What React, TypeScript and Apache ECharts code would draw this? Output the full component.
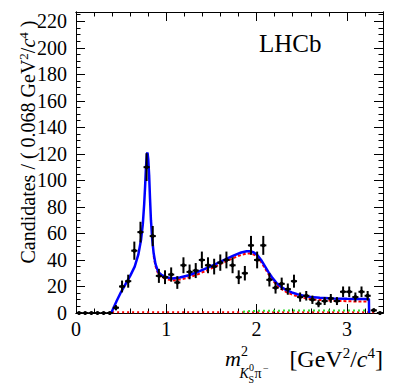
import React, { useEffect, useRef } from "react";
import * as echarts from "echarts";

const BIN_WIDTH = 0.068;
const counts = [
  0, 0, 0, 0, 0, 0, 4, 20, 24, 47,
  61, 110, 58, 28, 27, 29, 23, 36, 31, 32,
  40, 36, 35, 38, 40, 36, 27, 30, 51, 40,
  51, 25, 19, 22, 18, 24, 12, 13, 10, 7,
  9, 11, 9, 16, 16, 12, 16, 13, 2, 0,
];
const binCenters = counts.map((_, i) => BIN_WIDTH * (i + 0.5));

const totalFitX = [0.39, 0.45, 0.5, 0.55, 0.6, 0.65, 0.69, 0.72, 0.74, 0.755, 0.765, 0.775, 0.785, 0.792, 0.8, 0.81, 0.82, 0.83, 0.845, 0.86, 0.88, 0.91, 0.95, 1.0, 1.07, 1.15, 1.25, 1.35, 1.48, 1.58, 1.665, 1.75, 1.83, 1.89, 1.93, 1.97, 2.01, 2.05, 2.09, 2.13, 2.17, 2.22, 2.27, 2.33, 2.39, 2.45, 2.52, 2.6, 2.7, 2.85, 3.0, 3.1, 3.244, 3.246];
const totalFitY = [0, 9, 16, 22, 28, 35, 44, 55, 67, 82, 95, 110, 120, 121, 116, 104, 86, 70, 55, 45, 37, 31, 28.5, 27, 26, 26.8, 28.5, 31, 34.8, 38, 40.8, 43.5, 45.6, 46.5, 46.6, 45.6, 43.5, 40, 35.5, 31, 27, 22.7, 19.8, 17.3, 15.5, 14.2, 13, 12.1, 11.5, 11, 10.7, 10.6, 10.5, 0];

const compAX = [0.86, 0.88, 0.91, 0.95, 1.0, 1.07, 1.15, 1.25, 1.35, 1.48, 1.58, 1.665, 1.75, 1.83, 1.89, 1.93, 1.97, 2.01, 2.05, 2.09, 2.13, 2.17, 2.22, 2.27, 2.33, 2.39, 2.45, 2.52, 2.6, 2.7, 2.85, 3.0, 3.1, 3.22];
const compAY = [43, 35.5, 29.5, 27, 25.5, 24.5, 25.2, 26.8, 29.2, 33, 36.2, 39, 41.7, 43.8, 44.8, 45, 44, 42, 38.5, 34, 29.5, 25.5, 21.2, 18.3, 15.8, 14, 12.6, 11.4, 10.5, 9.8, 9.2, 8.9, 8.7, 8.6];

const compBX = [0.4, 3.3];
const compBY = [0.6, 0.6];

const compCX = [1.85, 1.92, 2.05, 2.3, 3.22];
const compCY = [1.0, 1.5, 1.7, 1.8, 1.8];

const X_MIN = 0, X_MAX = 3.4, X_MAJOR = 1, X_MINOR = 0.2;
const Y_MIN = 0, Y_MAX = 227, Y_MAJOR = 20, Y_MINOR = 5;

const FONT = '"Liberation Serif", "Times New Roman", Times, serif';

const zip = (xs: number[], ys: number[]) => xs.map((x, i) => [x, ys[i]]);

export default function App() {
  const ref = useRef<HTMLDivElement>(null);
  useEffect(() => {
    if (!ref.current) return;
    const chart = echarts.init(ref.current, undefined, { renderer: "svg" });
    const black = "#000";
    const mkX = (pos: string, interval: number, tickLen: number, labels: boolean) => ({
      type: "value",
      position: pos,
      min: X_MIN,
      max: X_MAX,
      interval,
      axisLine: { show: true, onZero: false, lineStyle: { color: black, width: 1 } },
      axisTick: { show: true, inside: true, length: tickLen, lineStyle: { color: black, width: 1 } },
      axisLabel: {
        show: labels,
        margin: 6,
        fontFamily: FONT,
        fontSize: 20,
        color: black,
        formatter: (v: number) => (Math.abs(v - Math.round(v)) < 1e-6 ? String(Math.round(v)) : ""),
      },
      splitLine: { show: false },
    });
    const mkY = (pos: string, interval: number, tickLen: number, labels: boolean) => ({
      type: "value",
      position: pos,
      min: Y_MIN,
      max: Y_MAX,
      interval,
      axisLine: { show: true, onZero: false, lineStyle: { color: black, width: 1 } },
      axisTick: { show: true, inside: true, length: tickLen, lineStyle: { color: black, width: 1 } },
      axisLabel: {
        show: labels,
        margin: 9,
        fontFamily: FONT,
        fontSize: 20,
        color: black,
        formatter: (v: number) => (Math.abs(v % Y_MAJOR) < 1e-6 ? String(v) : ""),
      },
      splitLine: { show: false },
    });

    const half = BIN_WIDTH / 2;
    chart.setOption({
      animation: false,
      backgroundColor: "#fff",
      textStyle: { fontFamily: FONT },
      grid: { left: 76, right: 16, top: 12, bottom: 74, containLabel: false },
      xAxis: [
        mkX("bottom", X_MAJOR, 9, true),
        mkX("bottom", X_MINOR, 4.5, false),
        mkX("top", X_MAJOR, 9, false),
        mkX("top", X_MINOR, 4.5, false),
      ],
      yAxis: [
        mkY("left", Y_MAJOR, 9, true),
        mkY("left", Y_MINOR, 4.5, false),
        mkY("right", Y_MAJOR, 9, false),
        mkY("right", Y_MINOR, 4.5, false),
      ],
      series: [
        {
          type: "line",
          data: zip(compBX, compBY),
          showSymbol: false,
          lineStyle: { color: "#ff0000", width: 2, type: [2, 3] },
          z: 2,
        },
        {
          type: "line",
          data: zip(compCX, compCY),
          showSymbol: false,
          lineStyle: { color: "#33dd33", width: 2, type: [2, 3] },
          z: 2,
        },
        {
          type: "line",
          data: zip(compAX, compAY),
          showSymbol: false,
          lineStyle: { color: "#ff0000", width: 2, type: [3, 2] },
          z: 3,
        },
        {
          type: "line",
          data: zip(totalFitX, totalFitY),
          showSymbol: false,
          lineStyle: { color: "#0000ff", width: 2.5 },
          z: 4,
        },
        {
          type: "custom",
          z: 5,
          data: binCenters.map((x, i) => [x, counts[i]]),
          renderItem: (params: any, api: any) => {
            const x = api.value(0);
            const n = api.value(1);
            const e = Math.sqrt(n);
            const c = api.coord([x, n]);
            const l = api.coord([x - half, n]);
            const r = api.coord([x + half, n]);
            const t = api.coord([x, n + e]);
            const b = api.coord([x, n - e]);
            const st = { stroke: "#000", lineWidth: 2 };
            const children: any[] = [
              { type: "line", shape: { x1: l[0], y1: l[1], x2: r[0], y2: r[1] }, style: st },
              { type: "circle", shape: { cx: c[0], cy: c[1], r: 2 }, style: { fill: "#000" } },
            ];
            if (n > 0) {
              children.push({ type: "line", shape: { x1: t[0], y1: t[1], x2: b[0], y2: b[1] }, style: st });
            }
            return { type: "group", children };
          },
        },
      ],
      graphic: [
        {
          type: "text",
          x: 259,
          y: 43.5,
          style: { text: "LHCb", font: `25px ${FONT}`, fill: "#000", verticalAlign: "middle", align: "left" },
        },
        {
          type: "text",
          x: 28,
          y: 142,
          rotation: Math.PI / 2,
          style: {
            text: "Candidates / ( 0.068 GeV{s|2}/{i|c}{s|4} )",
            font: `20px ${FONT}`,
            fill: "#000",
            align: "center",
            verticalAlign: "middle",
            lineHeight: 22,
            rich: {
              s: { fontSize: 13, fontFamily: FONT, verticalAlign: "top", lineHeight: 22, fill: "#000" },
              i: { fontSize: 20, fontFamily: FONT, fontStyle: "italic", lineHeight: 22, fill: "#000" },
            },
          },
        },
        { type: "text", x: 225, y: 358.5, style: { text: "m", font: `italic 22px ${FONT}`, fill: "#000", verticalAlign: "middle" } },
        { type: "text", x: 241, y: 351, style: { text: "2", font: `14px ${FONT}`, fill: "#000", verticalAlign: "middle" } },
        { type: "text", x: 239.5, y: 373.2, style: { text: "K", font: `italic 14px ${FONT}`, fill: "#000", verticalAlign: "middle" } },
        { type: "text", x: 249, y: 367.6, style: { text: "0", font: `10px ${FONT}`, fill: "#000", verticalAlign: "middle" } },
        { type: "text", x: 248.5, y: 379.6, style: { text: "S", font: `10px ${FONT}`, fill: "#000", verticalAlign: "middle" } },
        { type: "text", x: 254.5, y: 373.2, style: { text: "π", font: `14px ${FONT}`, fill: "#000", verticalAlign: "middle" } },
        { type: "text", x: 263, y: 368.6, style: { text: "−", font: `10px ${FONT}`, fill: "#000", verticalAlign: "middle" } },
        {
          type: "text",
          x: 383,
          y: 358.5,
          style: {
            text: "[GeV{s|2}/{i|c}{s|4}]",
            font: `24px ${FONT}`,
            fill: "#000",
            align: "right",
            verticalAlign: "middle",
            lineHeight: 26,
            rich: {
              s: { fontSize: 15, fontFamily: FONT, verticalAlign: "top", lineHeight: 26, fill: "#000" },
              i: { fontSize: 24, fontFamily: FONT, fontStyle: "italic", lineHeight: 26, fill: "#000" },
            },
          },
        },
      ],
    });
    return () => chart.dispose();
  }, []);
  return <div ref={ref} style={{ position: "fixed", left: 0, top: 0, width: 399, height: 387 }} />;
}
